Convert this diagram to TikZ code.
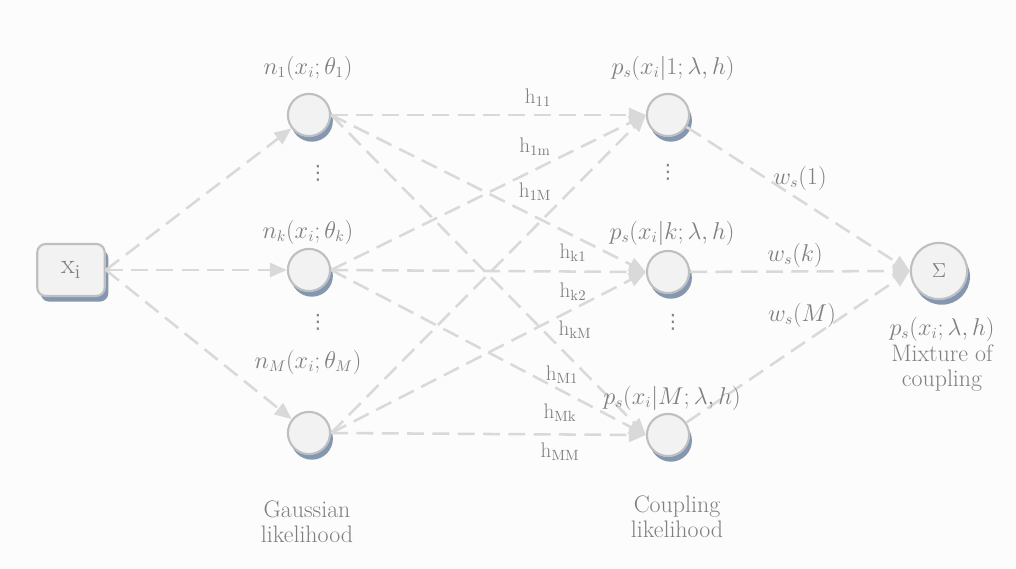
\documentclass[tikz,border=0pt]{standalone}
\usepackage{fontspec}
\usetikzlibrary{arrows.meta,shadows}

\newfontfamily\dotsfont{DejaVu Sans}

\definecolor{linec}{HTML}{D9D9D9}
\definecolor{textc}{HTML}{7F7F7F}
\definecolor{fillc}{HTML}{F2F2F2}
\definecolor{borderc}{HTML}{BFBFBF}
\definecolor{shadowc}{HTML}{8497B0}
\definecolor{bgc}{HTML}{FCFCFC}

\begin{document}
\begin{tikzpicture}[x=0.025cm, y=-0.025cm,
    unit/.style={circle, draw=borderc, line width=1.5pt, fill=fillc, minimum size=30pt, inner sep=0pt,
        drop shadow={shadow xshift=2pt, shadow yshift=-4pt, fill=shadowc, opacity=1}},
    inbox/.style={rounded corners=6pt, draw=borderc, line width=1.5pt, fill=fillc, minimum width=48pt, minimum height=37pt,
        drop shadow={shadow xshift=2.5pt, shadow yshift=-4pt, fill=shadowc, opacity=1}},
    link/.style={draw=linec, line width=1.8pt, dash pattern=on 12pt off 6pt, -{Triangle[length=12pt, width=10pt]}},
    txt/.style={text=textc, font=\fontsize{15}{18}\selectfont, inner sep=0pt, align=center},
    mathlbl/.style={txt, font=\fontsize{16}{18}\selectfont},
    words/.style={txt, font=\fontsize{17}{18}\selectfont}
]

% Fondo y margenes
\fill[bgc] (0,0) rectangle (1016,569);

% Entrada
\node[inbox, text=textc, font=\fontsize{20}{22}\selectfont] (x) at (71,270) {$\mathrm{x_i}$};

% Verosimilitudes gaussianas y de acoplamiento
\foreach \i/\y in {1/115, k/270, M/433} {
    \node[unit] (n\i) at (309,\y) {};
}
\foreach \i/\y in {1/115, k/272, M/435} {
    \node[unit] (p\i) at (668,\y) {};
}
\node[unit, minimum size=40pt, text=textc, font=\fontsize{15}{17}\selectfont] (sum) at (939,271) {$\Sigma$};

% Conexiones
\foreach \i in {1,k,M} {
    \draw[link] (x.east) -- (n\i);
}
\foreach \i in {1,k,M} {
    \foreach \j in {1,k,M} {
        \draw[link] (n\i.east) -- (p\j.west);
    }
}
\foreach \j in {1,k,M} {
    \draw[link] (p\j) -- (sum.west);
}

% Etiquetas de los nodos
\node[mathlbl] (ln1) at (308,68) {$n_1(x_i;\theta_1)$};
\node[mathlbl] (lnk) at (308,232) {$n_k(x_i;\theta_k)$};
\node[mathlbl] (lnM) at (308,362) {$n_M(x_i;\theta_M)$};
\node[mathlbl] (lp1) at (673,68) {$p_s(x_i|1;\lambda,h)$};
\node[mathlbl] (lpk) at (672,233) {$p_s(x_i|k;\lambda,h)$};
\node[mathlbl] (lpM) at (672,398) {$p_s(x_i|M;\lambda,h)$};
\node[mathlbl] (lsum) at (942,329) {$p_s(x_i;\lambda,h)$};
\node[words] (mix) at (942,368) {Mixture of\\coupling};
\node[words] (gauss) at (307,522) {Gaussian\\likelihood};
\node[words] (coup) at (677,517) {Coupling\\likelihood};

% Puntos suspensivos
\foreach \name/\xx/\yy in {d1/318/173, d2/318/322, d3/668/172, d4/673/322} {
    \node[txt, font=\dotsfont\fontsize{14}{16}\selectfont] (\name) at (\xx,\yy) {⋮};
}

% Pesos de acoplamiento
\foreach \name/\xx/\yy/\w in {h11/538/98/11, h1m/535/147/1m, h1M/535/192/1M,
    hk1/573/253/k1, hk2/573/292/k2, hkM/575/330/kM,
    hM1/562/375/M1, hMk/560/413/Mk, hMM/560/452/MM} {
    \node[txt] (\name) at (\xx,\yy) {$\mathrm{h_{\w}}$};
}

% Pesos de la mezcla
\node[mathlbl] (w1) at (800,178) {$w_s(1)$};
\node[mathlbl] (wk) at (795,255) {$w_s(k)$};
\node[mathlbl] (wM) at (802,315) {$w_s(M)$};

\end{tikzpicture}
\end{document}
